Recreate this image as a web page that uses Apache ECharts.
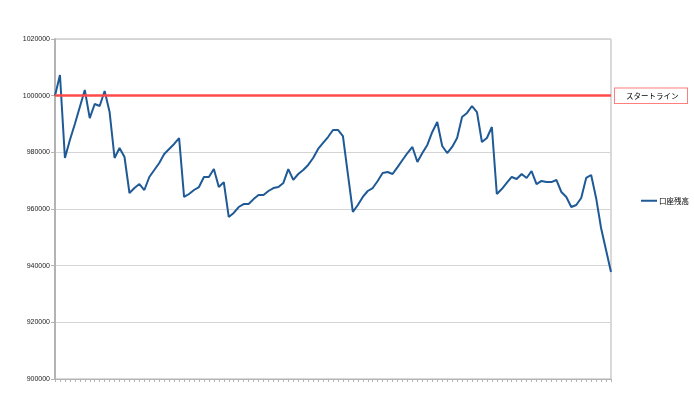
<!DOCTYPE html>
<html>
<head>
<meta charset="utf-8">
<script src="https://cdn.jsdelivr.net/npm/echarts@6/dist/echarts.min.js"></script>
<style>
html,body{margin:0;padding:0;background:#fff;}
#chart{width:694px;height:400px;}
</style>
</head>
<body>
<div id="chart"></div>
<script>
var seriesName = '口座残高';
var startLineName = 'スタートライン';
var startLineValue = 1000000;
var balance = [
  1000000, 1007300, 978000, 984350, 990000, 996000, 1002000, 992100, 997060, 996350,
  1001650, 994200, 978000, 981530, 978350, 965650, 967400, 968800, 966700, 971300,
  973750, 976250, 979400, 981200, 982950, 985050, 964250, 965300, 966700, 967750,
  971300, 971300, 974100, 967750, 969500, 957200, 958600, 960700, 961750, 961750,
  963500, 964950, 964950, 966350, 967400, 967750, 969200, 974100, 970250, 972350,
  973750, 975550, 978000, 981200, 983300, 985400, 987900, 987900, 985750, 972350,
  958950, 961400, 964250, 966350, 967400, 969900, 972700, 973050, 972350, 974800,
  977300, 979750, 981900, 976600, 979750, 982600, 987200, 990700, 982250, 979750,
  981900, 985050, 992500, 993900, 996350, 994200, 983650, 985050, 988950, 965300,
  967050, 969200, 971300, 970600, 972350, 970950, 973400, 968800, 969900, 969500,
  969500, 970250, 966000, 964250, 960700, 961400, 963900, 970950, 972000, 963900,
  953300, 945500, 937750
];
var categories = balance.map(function (v, i) { return String(i + 1); });
var yMin = 900000, yMax = 1020000, yStep = 20000;

var chart = echarts.init(document.getElementById('chart'), null, {renderer: 'canvas'});
chart.setOption({
  backgroundColor: '#ffffff',
  animation: false,
  textStyle: {fontFamily: '"Liberation Sans", "Noto Sans CJK JP", sans-serif'},
  grid: {left: 55, right: 83, top: 39, bottom: 21, show: true, borderColor: '#b3b3b3', borderWidth: 1},
  legend: {
    left: 636, top: 192, orient: 'vertical',
    itemWidth: 16, itemHeight: 2, itemGap: 4,
    textStyle: {fontSize: 7.5, color: '#000', fontFamily: '"Noto Sans CJK JP", sans-serif', padding: [0, 0, 0, -3]},
    data: [{name: seriesName, icon: 'rect'}]
  },
  xAxis: {
    type: 'category', data: categories, boundaryGap: false,
    axisLine: {lineStyle: {color: '#b3b3b3', width: 1}},
    axisTick: {show: true, interval: 0, length: 3, lineStyle: {color: '#b3b3b3'}},
    axisLabel: {show: false},
    splitLine: {show: false}
  },
  yAxis: {
    type: 'value', min: yMin, max: yMax, interval: yStep,
    axisLine: {show: true, lineStyle: {color: '#b3b3b3', width: 2}},
    axisTick: {show: true, length: 4, lineStyle: {color: '#b3b3b3'}},
    axisLabel: {fontSize: 7, color: '#222', margin: 5, formatter: function (v) { return String(v); }},
    splitLine: {show: true, lineStyle: {color: '#d4d4d4', width: 1}}
  },
  series: [{
    name: seriesName, type: 'line', data: balance,
    symbol: 'none', smooth: false,
    lineStyle: {color: '#1f5a96', width: 2},
    itemStyle: {color: '#1f5a96'},
    markLine: {
      silent: true, symbol: ['none', 'none'],
      lineStyle: {color: '#ff4a4a', width: 2.5, type: 'solid'},
      label: {
        show: true, position: 'end', distance: 4,
        formatter: startLineName,
        fontSize: 7.5, color: '#000', fontFamily: '"Noto Sans CJK JP", sans-serif',
        backgroundColor: '#fff', borderColor: '#ff7f7f', borderWidth: 1,
        width: 52, align: 'left',
        padding: [4, 9, 3, 11]
      },
      data: [{yAxis: startLineValue}]
    }
  }]
});
</script>
</body>
</html>
